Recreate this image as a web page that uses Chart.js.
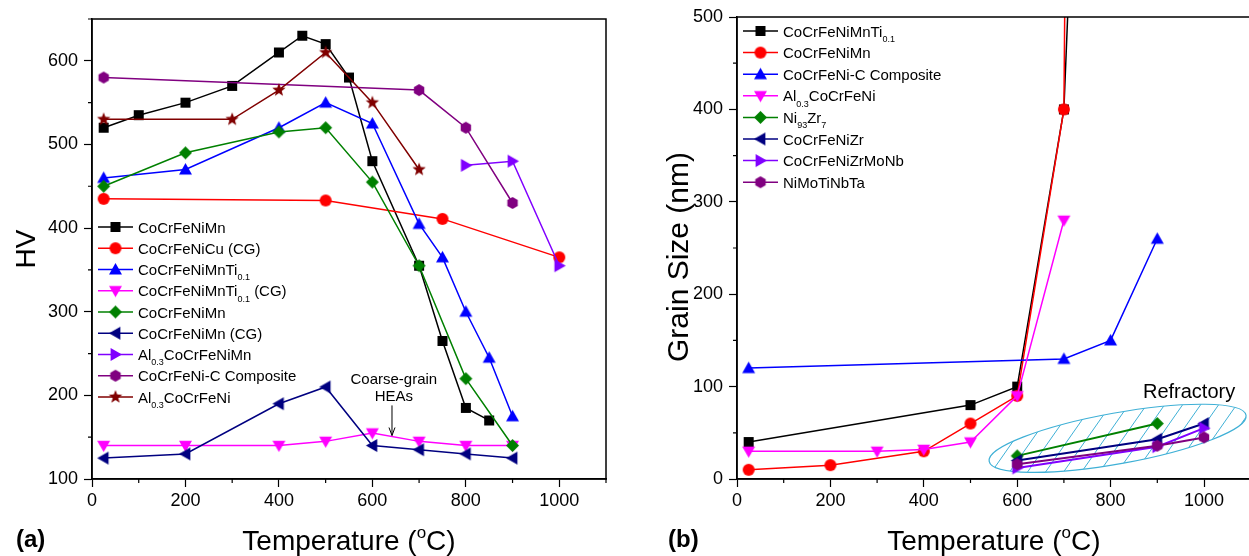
<!DOCTYPE html>
<html>
<head>
<meta charset="utf-8">
<title>HV and grain size vs temperature</title>
<script src="https://cdn.jsdelivr.net/npm/chart.js@4.4.0/dist/chart.umd.min.js"></script>
<style>
  html, body { margin: 0; padding: 0; background: #fff; overflow: hidden; width: 1249px; height: 556px; }
  #chartA { position: absolute; left: 0; top: 0; }
  #chartB { position: absolute; left: 640px; top: 0; }
</style>
</head>
<body>
<canvas id="chartA" width="640" height="556"></canvas>
<canvas id="chartB" width="620" height="556"></canvas>
<script>
// ---------- (a) hardness data ----------
const hvNames = ['CoCrFeNiMn', 'CoCrFeNiCu (CG)', 'CoCrFeNiMnTi_{0.1}', 'CoCrFeNiMnTi_{0.1} (CG)', 'CoCrFeNiMn',
                 'CoCrFeNiMn (CG)', 'Al_{0.3}CoCrFeNiMn', 'CoCrFeNi-C Composite', 'Al_{0.3}CoCrFeNi'];
const hvTemp1 = [25, 100, 200, 300, 400, 450, 500, 550, 600, 700, 750, 800, 850];
const hvVal1  = [520, 535, 550, 570, 610, 630, 620, 580, 480, 355, 265, 185, 170];
const hvTemp2 = [25, 500, 750, 1000];
const hvVal2  = [435, 433, 411, 365];
const hvTemp3 = [25, 200, 400, 500, 600, 700, 750, 800, 850, 900];
const hvVal3  = [460, 470, 520, 550, 525, 405, 365, 300, 245, 175];
const hvTemp4 = [25, 200, 400, 500, 600, 700, 800, 900];
const hvVal4  = [140, 140, 140, 145, 155, 145, 140, 140];
const hvTemp5 = [25, 200, 400, 500, 600, 700, 800, 900];
const hvVal5  = [450, 490, 515, 520, 455, 355, 220, 140];
const hvTemp6 = [25, 200, 400, 500, 600, 700, 800, 900];
const hvVal6  = [125, 130, 190, 210, 140, 135, 130, 125];
const hvTemp7 = [800, 900, 1000];
const hvVal7  = [475, 480, 355];
const hvTemp8 = [25, 700, 800, 900];
const hvVal8  = [580, 565, 520, 430];
const hvTemp9 = [25, 300, 400, 500, 600, 700];
const hvVal9  = [530, 530, 565, 610, 550, 470];
const hvXTicks = [0, 200, 400, 600, 800, 1000];
const hvXMinor = [100, 300, 500, 700, 900, 1100];
const hvYTicks = [100, 200, 300, 400, 500, 600];
const hvYMinor = [150, 250, 350, 450, 550, 650];

// ---------- (b) grain size data ----------
const gsNames = ['CoCrFeNiMnTi_{0.1}', 'CoCrFeNiMn', 'CoCrFeNi-C Composite', 'Al_{0.3}CoCrFeNi', 'Ni_{93}Zr_{7}',
                 'CoCrFeNiZr', 'CoCrFeNiZrMoNb', 'NiMoTiNbTa'];
const gsTemp1 = [25, 500, 600, 700, 800];
const gsVal1  = [40, 80, 100, 400, 1650];
const gsTemp2 = [25, 200, 400, 500, 600, 700, 800];
const gsVal2  = [10, 15, 30, 60, 90, 400, 6400];
const gsTemp3 = [25, 700, 800, 900];
const gsVal3  = [120, 130, 150, 260];
const gsTemp4 = [25, 300, 400, 500, 600, 700];
const gsVal4  = [30, 30, 32, 40, 90, 280];
const gsTemp5 = [600, 900];
const gsVal5  = [25, 60];
const gsTemp6 = [600, 900, 1000];
const gsVal6  = [20, 43, 60];
const gsTemp7 = [600, 900, 1000];
const gsVal7  = [12, 35, 55];
const gsTemp8 = [600, 900, 1000];
const gsVal8  = [16, 36, 45];
const gsXTicks = [0, 200, 400, 600, 800, 1000];
const gsXMinor = [100, 300, 500, 700, 900, 1100];
const gsYTicks = [0, 100, 200, 300, 400, 500];
const gsYMinor = [50, 150, 250, 350, 450];

const FONT = '"Liberation Sans", Arial, sans-serif';

// marker glyphs drawn once on small canvases
function marker(shape, color, s) {
  const n = Math.ceil(s) + 2;
  const c = document.createElement('canvas');
  c.width = c.height = n;
  const g = c.getContext('2d');
  g.fillStyle = color;
  g.translate(n / 2, n / 2);
  const r = s / 2;
  g.beginPath();
  if (shape === 'square') g.rect(-r, -r, 2 * r, 2 * r);
  else if (shape === 'circle') g.arc(0, 0, r, 0, Math.PI * 2);
  else if (shape === 'diamond') { g.moveTo(0, -r); g.lineTo(r, 0); g.lineTo(0, r); g.lineTo(-r, 0); }
  else if (shape === 'hex') {
    for (let k = 0; k < 6; k++) { const a = Math.PI / 6 + k * Math.PI / 3; g.lineTo(r * Math.cos(a), r * Math.sin(a)); }
  } else if (shape === 'star') {
    for (let k = 0; k < 10; k++) {
      const a = -Math.PI / 2 + k * Math.PI / 5, rr = k % 2 ? r * 0.42 : r;
      g.lineTo(rr * Math.cos(a), rr * Math.sin(a));
    }
  } else {
    const rot = { up: 0, right: Math.PI / 2, down: Math.PI, left: -Math.PI / 2 }[shape];
    g.rotate(rot);
    g.moveTo(0, -r); g.lineTo(r, r * 0.75); g.lineTo(-r, r * 0.75);
  }
  g.closePath();
  g.fill();
  return c;
}

function series(name, xs, ys, color, shape, size, width) {
  return {
    label: name.replace(/[_^]\{([^}]*)\}/g, '$1'),
    rich: name,
    data: xs.map((x, i) => ({ x: x, y: ys[i] })),
    showLine: true,
    borderColor: color,
    backgroundColor: color,
    borderWidth: width || 1.5,
    pointStyle: marker(shape, color, size),
    pointRadius: size / 2,
    tension: 0
  };
}

const hvSets = [
  series(hvNames[0], hvTemp1, hvVal1, '#000000', 'square', 10),
  series(hvNames[1], hvTemp2, hvVal2, '#ff0000', 'circle', 12),
  series(hvNames[2], hvTemp3, hvVal3, '#0000ff', 'up', 13),
  series(hvNames[3], hvTemp4, hvVal4, '#ff00ff', 'down', 13),
  series(hvNames[4], hvTemp5, hvVal5, '#008000', 'diamond', 13),
  series(hvNames[5], hvTemp6, hvVal6, '#000080', 'left', 13),
  series(hvNames[6], hvTemp7, hvVal7, '#8000ff', 'right', 13),
  series(hvNames[7], hvTemp8, hvVal8, '#800080', 'hex', 12),
  series(hvNames[8], hvTemp9, hvVal9, '#800000', 'star', 14)
];
const gsSets = [
  series(gsNames[0], gsTemp1, gsVal1, '#000000', 'square', 10),
  series(gsNames[1], gsTemp2, gsVal2, '#ff0000', 'circle', 12),
  series(gsNames[2], gsTemp3, gsVal3, '#0000ff', 'up', 13),
  series(gsNames[3], gsTemp4, gsVal4, '#ff00ff', 'down', 13),
  series(gsNames[4], gsTemp5, gsVal5, '#008000', 'diamond', 13, 2),
  series(gsNames[5], gsTemp6, gsVal6, '#000080', 'left', 13, 2),
  series(gsNames[6], gsTemp7, gsVal7, '#8000ff', 'right', 13, 2),
  series(gsNames[7], gsTemp8, gsVal8, '#800080', 'hex', 12, 2)
];
// later series on top, like the original
hvSets.forEach((d, i) => d.order = -i);
gsSets.forEach((d, i) => d.order = -i);

// text with _{sub} and ^{sup}
function parts(str) {
  const out = [], re = /([_^])\{([^}]*)\}/g;
  let last = 0, m;
  while ((m = re.exec(str))) {
    if (m.index > last) out.push({ t: str.slice(last, m.index), k: 0 });
    out.push({ t: m[2], k: m[1] === '_' ? 1 : -1 });
    last = re.lastIndex;
  }
  if (last < str.length) out.push({ t: str.slice(last), k: 0 });
  return out;
}
function drawRich(ctx, str, x, y, size, align, bold) {
  const ps = parts(str), small = Math.round(size * 0.62);
  const f = s => (bold ? 'bold ' : '') + s + 'px ' + FONT;
  let w = 0;
  ps.forEach(p => { ctx.font = f(p.k ? small : size); p.w = ctx.measureText(p.t).width; w += p.w; });
  let cx = align === 'center' ? x - w / 2 : x;
  ctx.textAlign = 'left';
  ctx.textBaseline = 'alphabetic';
  ps.forEach(p => {
    ctx.font = f(p.k ? small : size);
    const dy = p.k === 1 ? size * 0.35 : p.k === -1 ? -size * 0.42 : 0;
    ctx.fillText(p.t, cx, y + dy);
    cx += p.w;
  });
}

// frame, minor ticks, titles, legend
const decor = {
  id: 'decor',
  beforeDatasetsDraw(chart, args, o) {
    if (!o.ellipse) return;
    const { ctx, scales: { x, y } } = chart, e = o.ellipse;
    const x1 = x.getPixelForValue(e.from[0]), y1 = y.getPixelForValue(e.from[1]);
    const x2 = x.getPixelForValue(e.to[0]), y2 = y.getPixelForValue(e.to[1]);
    const cx = (x1 + x2) / 2, cy = (y1 + y2) / 2;
    const rx = Math.hypot(x2 - x1, y2 - y1) / 2, ang = Math.atan2(y2 - y1, x2 - x1);
    const outline = () => { ctx.beginPath(); ctx.ellipse(cx, cy, rx, e.minor, ang, 0, Math.PI * 2); };
    ctx.save();
    outline();
    ctx.clip();
    ctx.strokeStyle = e.color;
    ctx.lineWidth = 1;
    ctx.beginPath();
    const dx = 60 / Math.tan(e.hatchAngle * Math.PI / 180);
    for (let off = -rx - 80; off < rx + 80; off += e.hatchGap) {
      ctx.moveTo(cx + off - dx, cy + 60);
      ctx.lineTo(cx + off + dx, cy - 60);
    }
    ctx.stroke();
    ctx.restore();
    ctx.save();
    ctx.strokeStyle = e.color;
    ctx.lineWidth = 1.2;
    outline();
    ctx.stroke();
    ctx.restore();
  },
  afterDraw(chart, args, o) {
    const { ctx, chartArea: a, scales: { x, y } } = chart;
    ctx.save();
    ctx.strokeStyle = '#000';
    ctx.lineWidth = 1.5;
    ctx.strokeRect(a.left, a.top, a.right - a.left, a.bottom - a.top);
    ctx.lineWidth = 1.2;
    ctx.beginPath();
    o.xMinor.forEach(v => { const p = x.getPixelForValue(v); ctx.moveTo(p, a.bottom); ctx.lineTo(p, a.bottom + 4); });
    o.yMinor.forEach(v => { const p = y.getPixelForValue(v); ctx.moveTo(a.left, p); ctx.lineTo(a.left - 4, p); });
    ctx.stroke();

    ctx.fillStyle = '#000';
    // axis titles
    drawRich(ctx, 'Temperature (^{o}C)', (a.left + a.right) / 2, 550, 28, 'center');
    ctx.save();
    ctx.translate(o.yTitleX, o.yTitleY);
    ctx.rotate(-Math.PI / 2);
    drawRich(ctx, o.yTitle, 0, 0, o.yTitleSize, 'center');
    ctx.restore();
    drawRich(ctx, o.panel, o.panelX, 547, 24, 'left', true);

    // legend
    chart.data.datasets.forEach((d, i) => {
      const cy = a.top + o.legendTop + i * o.legendGap;
      const lx = a.left + 6;
      ctx.strokeStyle = d.borderColor;
      ctx.lineWidth = 1.5;
      ctx.beginPath();
      ctx.moveTo(lx, cy);
      ctx.lineTo(lx + 35, cy);
      ctx.stroke();
      const m = d.pointStyle;
      ctx.drawImage(m, lx + 17.5 - m.width / 2, cy - m.height / 2);
      ctx.fillStyle = '#000';
      drawRich(ctx, d.rich, lx + 40, cy + 5.5, 15, 'left');
    });

    // text notes in data coordinates
    (o.notes || []).forEach(n => {
      ctx.fillStyle = '#000';
      drawRich(ctx, n.text, x.getPixelForValue(n.x), y.getPixelForValue(n.y), n.size, 'center');
    });
    if (o.arrow) {
      const ax = x.getPixelForValue(o.arrow.x);
      const y0 = y.getPixelForValue(o.arrow.from), y1 = y.getPixelForValue(o.arrow.to);
      ctx.strokeStyle = '#000';
      ctx.lineWidth = 1;
      ctx.beginPath();
      ctx.moveTo(ax, y0); ctx.lineTo(ax, y1);
      ctx.moveTo(ax - 3, y1 - 8); ctx.lineTo(ax, y1); ctx.lineTo(ax + 3, y1 - 8);
      ctx.stroke();
    }
    ctx.restore();
  }
};

function scales(xMax, yMin, yMax, xTicks, yTicks, yWidth) {
  const grid = { drawOnChartArea: false, drawTicks: true, tickLength: 8, tickColor: '#000', tickWidth: 1.2 };
  const ticks = { color: '#000', font: { family: FONT, size: 18 }, maxRotation: 0, autoSkip: false, callback: v => String(v) };
  return {
    x: {
      type: 'linear', min: 0, max: xMax,
      afterBuildTicks: s => { s.ticks = xTicks.map(v => ({ value: v })); },
      afterFit: s => { s.height = 77; },
      grid: grid,
      border: { display: true, color: '#000', width: 1.5 },
      ticks: Object.assign({ padding: 3 }, ticks)
    },
    y: {
      type: 'linear', min: yMin, max: yMax,
      afterBuildTicks: s => { s.ticks = yTicks.map(v => ({ value: v })); },
      afterFit: s => { s.width = yWidth; },
      grid: grid,
      border: { display: true, color: '#000', width: 1.5 },
      ticks: Object.assign({ padding: 6 }, ticks)
    }
  };
}

const chartA = new Chart(document.getElementById('chartA'), {
  type: 'scatter',
  data: { datasets: hvSets },
  options: {
    responsive: false,
    animation: false,
    devicePixelRatio: 1,
    layout: { padding: { top: 19, right: 34, left: 0, bottom: 0 } },
    scales: scales(1100, 100, 650, hvXTicks, hvYTicks, 92),
    plugins: {
      legend: { display: false },
      tooltip: { enabled: false },
      decor: {
        xMinor: hvXMinor, yMinor: hvYMinor,
        yTitle: 'HV', yTitleX: 35, yTitleY: 249, yTitleSize: 28,
        panel: '(a)', panelX: 16,
        legendTop: 208, legendGap: 21.25,
        notes: [
          { text: 'Coarse-grain', x: 646, y: 213, size: 15 },
          { text: 'HEAs', x: 646, y: 193, size: 15 }
        ],
        arrow: { x: 642, from: 188, to: 152 }
      }
    }
  },
  plugins: [decor]
});

const chartB = new Chart(document.getElementById('chartB'), {
  type: 'scatter',
  data: { datasets: gsSets },
  options: {
    responsive: false,
    animation: false,
    devicePixelRatio: 1,
    layout: { padding: { top: 17, right: 9.3, left: 0, bottom: 0 } },
    scales: scales(1100, 0, 500, gsXTicks, gsYTicks, 97),
    plugins: {
      legend: { display: false },
      tooltip: { enabled: false },
      decor: {
        xMinor: gsXMinor, yMinor: gsYMinor,
        yTitle: 'Grain Size (nm)', yTitleX: 48, yTitleY: 257, yTitleSize: 30,
        panel: '(b)', panelX: 28,
        legendTop: 14, legendGap: 21.6,
        notes: [{ text: 'Refractory', x: 968, y: 88, size: 20 }],
        ellipse: { from: [540, 19], to: [1090, 69], minor: 25.5, color: '#3fb0d6', hatchAngle: 55, hatchGap: 18 }
      }
    }
  },
  plugins: [decor]
});
</script>
</body>
</html>
